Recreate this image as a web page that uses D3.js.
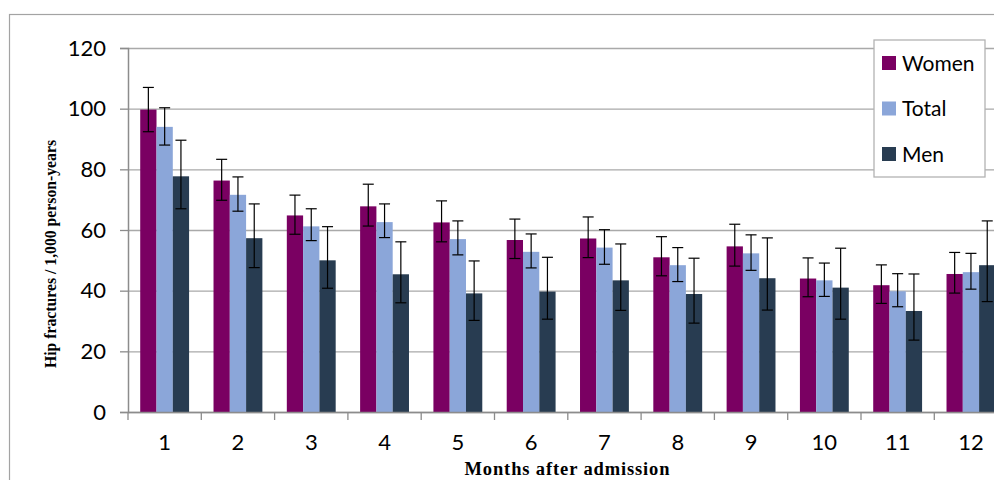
<!DOCTYPE html>
<html><head><meta charset="utf-8">
<script src="https://cdn.jsdelivr.net/npm/d3@7"></script>
<style>
html,body{margin:0;padding:0;background:#fff;}
svg{display:block;}
</style></head>
<body>
<svg id="chart" width="994" height="480"></svg>
<script>
const months = ["1","2","3","4","5","6","7","8","9","10","11","12"];
const seriesNames = ["Women","Total","Men"];
const seriesColors = ["#7a0062","#8ba6d9","#283c51"];
const yTicks = [0,20,40,60,80,100,120];

const women   = [99.7, 76.3, 64.8, 67.8, 62.5, 56.7, 57.2, 51.0, 54.6, 44.0, 41.8, 45.5];
const womenHi = [107.0, 83.3, 71.5, 75.1, 69.6, 63.6, 64.3, 57.8, 61.9, 50.8, 48.5, 52.6];
const womenLo = [92.4, 69.8, 58.6, 61.3, 56.1, 50.6, 50.9, 44.9, 48.1, 38.0, 35.8, 39.2];
const total   = [94.0, 71.6, 61.2, 62.6, 57.0, 52.8, 54.2, 48.4, 52.3, 43.4, 39.8, 46.1];
const totalHi = [100.3, 77.5, 67.0, 68.6, 63.0, 58.7, 60.1, 54.2, 58.4, 49.1, 45.6, 52.3];
const totalLo = [88.0, 66.2, 56.5, 57.5, 51.8, 47.5, 48.7, 43.0, 46.7, 38.1, 34.7, 40.5];
const men     = [77.7, 57.3, 50.0, 45.4, 39.1, 39.7, 43.4, 38.9, 44.1, 41.0, 33.3, 48.4];
const menHi   = [89.6, 68.6, 61.1, 56.1, 49.8, 51.0, 55.4, 50.7, 57.4, 54.0, 45.5, 63.0];
const menLo   = [67.0, 47.6, 40.8, 36.0, 30.2, 30.6, 33.5, 29.3, 33.6, 30.6, 23.7, 36.4];

(function(){
const values = [women, total, men];
const his = [womenHi, totalHi, menHi];
const los = [womenLo, totalLo, menLo];

const svg = d3.select("#chart");

// outer chart border
svg.append("rect").attr("x",9.5).attr("y",14.5).attr("width",1100).attr("height",600)
  .attr("fill","none").attr("stroke","#a3a3a3").attr("stroke-width",1.2);

const pL = 128, pT = 48, pB = 412, pR = 128 + 12*73.3;
const x0 = d3.scaleBand().domain(months).range([pL, pR]).paddingInner(0).paddingOuter(0);
const x1 = d3.scaleBand().domain(seriesNames).range([0, x0.bandwidth()]).paddingInner(0).paddingOuter(0.75);
const y = d3.scaleLinear().domain([0,120]).range([pB, pT]);

// gridlines
const grid = svg.append("g").attr("transform",`translate(${pL},0)`)
  .call(d3.axisLeft(y).tickValues(yTicks).tickSize(-(pR-pL)).tickFormat(""));
grid.select(".domain").remove();
grid.selectAll(".tick line").attr("stroke","#a9a9a9").attr("stroke-width",1.3);

// bars
seriesNames.forEach((s, si) => {
  const g = svg.append("g");
  g.selectAll("rect").data(months).join("rect")
    .attr("x", d => x0(d) + x1(s))
    .attr("y", (d,i) => y(values[si][i]))
    .attr("width", x1.bandwidth())
    .attr("height", (d,i) => y(0) - y(values[si][i]))
    .attr("fill", seriesColors[si]);
});

// error bars
seriesNames.forEach((s, si) => {
  const g = svg.append("g").attr("stroke","#000").attr("stroke-width",1.2);
  months.forEach((m, i) => {
    const cx = x0(m) + x1(s) + x1.bandwidth()/2;
    const yh = y(his[si][i]), yl = y(los[si][i]);
    g.append("line").attr("x1",cx).attr("x2",cx).attr("y1",yh).attr("y2",yl);
    g.append("line").attr("x1",cx-5.5).attr("x2",cx+5.5).attr("y1",yh).attr("y2",yh);
    g.append("line").attr("x1",cx-5.5).attr("x2",cx+5.5).attr("y1",yl).attr("y2",yl);
  });
});

// y axis
const yAxis = svg.append("g").attr("transform",`translate(${pL},0)`)
  .call(d3.axisLeft(y).tickValues(yTicks).tickSize(8).tickPadding(14));
yAxis.select(".domain").attr("stroke","#8c8c8c").attr("stroke-width",1.5);
yAxis.selectAll(".tick line").attr("stroke","#8c8c8c").attr("stroke-width",1.3);
yAxis.selectAll("text").attr("font-family","Lato, 'Open Sans', sans-serif").attr("font-size",22).attr("fill","#000");

// x axis
const xAxis = svg.append("g").attr("transform",`translate(0,${pB})`)
  .call(d3.axisBottom(x0).tickSize(0).tickPadding(22));
xAxis.select(".domain").attr("stroke","#8c8c8c").attr("stroke-width",1.5);
xAxis.selectAll("text").attr("font-family","Lato, 'Open Sans', sans-serif").attr("font-size",22).attr("fill","#000");
xAxis.selectAll(".bt").data(months).join("line").attr("class","bt")
  .attr("x1", d => x0(d)).attr("x2", d => x0(d)).attr("y1",0).attr("y2",8)
  .attr("stroke","#8c8c8c").attr("stroke-width",1.3);

// axis titles
svg.append("text").attr("x",567).attr("y",475).attr("text-anchor","middle")
  .attr("font-family","'Liberation Serif', 'DejaVu Serif', serif").attr("font-weight","bold")
  .attr("font-size",18.5).attr("textLength",205).attr("lengthAdjust","spacing")
  .text("Months after admission");
svg.append("text").attr("transform","translate(56,254) rotate(-90)").attr("text-anchor","middle")
  .attr("font-family","'Liberation Serif', 'DejaVu Serif', serif").attr("font-weight","bold")
  .attr("font-size",16.5).attr("textLength",228).attr("lengthAdjust","spacingAndGlyphs")
  .text("Hip fractures / 1,000 person-years");

// legend
const lg = svg.append("g");
lg.append("rect").attr("x",874).attr("y",40).attr("width",111).attr("height",137)
  .attr("fill","#fff").attr("stroke","#b3b3b3").attr("stroke-width",1.3);
seriesNames.forEach((s, si) => {
  const yy = 63 + si*45.5;
  lg.append("rect").attr("x",882).attr("y",yy-7).attr("width",14).attr("height",14).attr("fill",seriesColors[si]);
  lg.append("text").attr("x",902).attr("y",yy).attr("dy","0.36em")
    .attr("font-family","Lato, 'Open Sans', sans-serif").attr("font-size",21).text(s);
});
})();
</script>
</body></html>
